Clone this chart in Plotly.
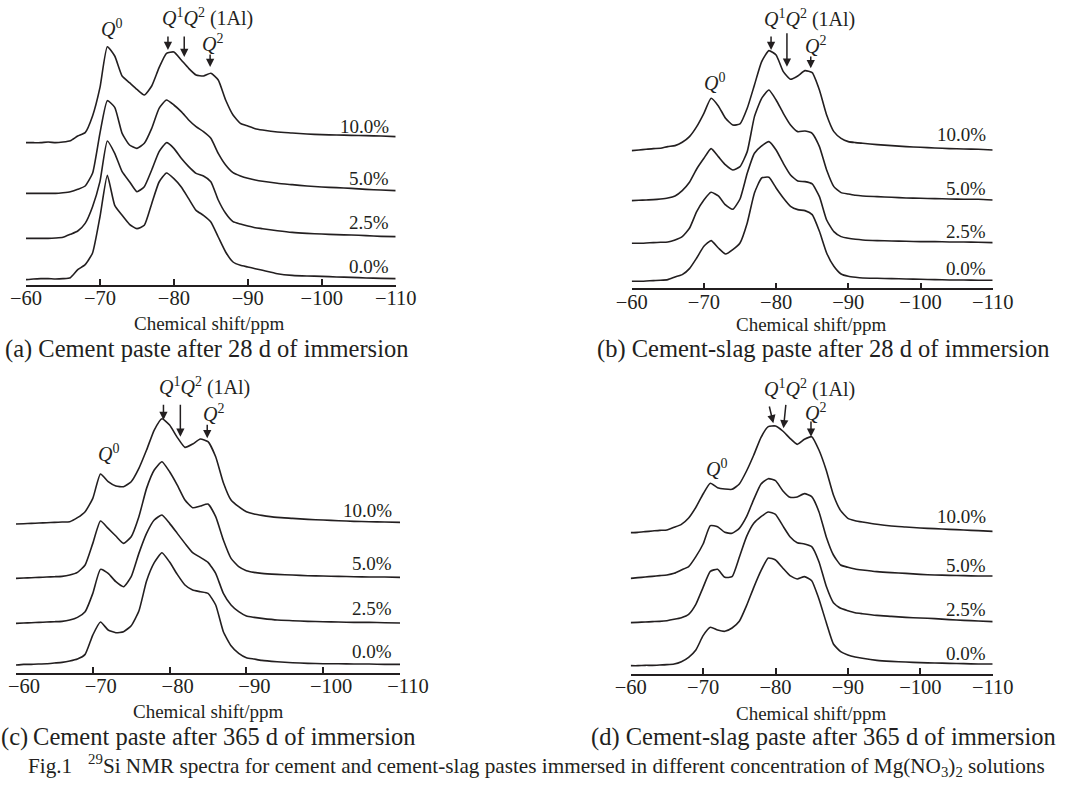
import plotly.graph_objects as go

# ---------------- data ----------------
PPM = [-60, -61, -62, -63, -64, -65, -66, -67, -68, -69, -70, -71, -72, -73, -74, -75,
       -76, -77, -78, -79, -80, -81, -82, -83, -84, -85, -86, -87, -88, -89, -90, -91, -92,
       -94, -96, -98, -100, -102, -104, -106, -108, -110]

CONC = ["0.0%", "2.5%", "5.0%", "10.0%"]

# (a) cement paste, 28 d  (relative intensity, a.u.)
A_00 = [0,2,3,3,2,3,6,30,45,80,188,313,223,193,166,153,163,228,293,320,303,278,243,208,193,173,128,83,53,43,38,33,28, 18,13,11,10,8,7,5,4,3]
A_25 = [0,0,0,0,1,3,12,22,45,95,170,292,255,200,170,140,155,205,260,287,270,240,215,195,187,170,115,75,50,43,37,32,29, 23,18,15,13,11,10,8,6,5]
A_50 = [0,0,0,0,0,2,5,12,22,60,180,278,258,180,145,135,150,195,255,280,265,245,220,200,185,165,120,85,62,52,45,40,36, 30,26,22,19,17,15,12,10,8]
A_100 = [0,0,0,2,0,2,6,20,30,80,165,288,260,200,180,160,143,170,225,268,272,248,223,203,200,208,188,128,83,58,50,42,38, 32,29,26,24,23,22,21,20,18]

# (b) cement-slag paste, 28 d
B_00 = [0,0,1,2,3,5,13,20,38,70,105,122,100,82,95,115,175,265,310,312,280,250,225,215,212,200,150,85,45,22,15,12,10, 9,8,7,6,5,4,4,3,3]
B_25 = [0,0,1,2,3,4,10,20,45,95,130,153,142,115,102,133,210,270,292,305,280,240,205,187,185,178,140,70,35,20,15,12,10, 8,7,6,5,5,4,4,3,2]
B_50 = [0,1,2,3,5,8,14,30,55,95,127,156,132,107,92,102,147,252,307,332,302,262,227,207,209,202,162,92,42,24,20,16,14, 12,10,8,7,6,5,4,4,2]
B_100 = [0,2,4,6,7,12,15,25,42,72,112,157,134,97,77,80,127,197,267,300,287,237,214,224,240,234,182,107,57,37,27,24,22, 18,15,12,10,8,6,5,4,2]

# (c) cement paste, 365 d
C_00 = [0,2,2,3,4,6,8,12,18,32,90,129,105,97,100,118,162,252,307,337,309,272,240,225,220,215,180,100,58,35,22,18,14, 10,7,5,4,4,3,3,2,2]
C_25 = [0,1,2,3,4,5,6,10,18,35,90,162,150,125,110,140,210,270,310,325,300,270,240,212,198,183,150,90,55,35,22,18,15, 10,8,6,5,4,3,3,2,1]
C_50 = [0,1,2,3,4,5,6,10,18,40,105,172,150,127,105,125,185,270,325,350,320,280,235,212,217,223,185,115,60,35,23,18,15, 12,10,8,7,6,5,4,4,3]
C_100 = [0,1,2,3,4,5,6,7,19,37,77,150,127,114,112,127,167,222,282,316,297,260,230,240,255,247,202,124,72,52,37,30,26, 20,17,14,12,10,8,7,6,5]

# (d) cement-slag paste, 365 d
D_00 = [0,0,1,1,2,3,5,12,25,47,90,115,107,103,113,133,180,235,285,323,317,293,270,260,267,255,200,130,65,42,32,26,22, 16,13,11,9,8,7,6,5,5]
D_25 = [0,1,2,3,4,6,10,15,25,55,106,154,160,136,138,196,258,298,318,332,325,291,258,240,236,228,183,110,60,43,36,30,27, 22,19,16,14,12,9,7,5,3]
D_50 = [0,2,4,6,8,10,15,25,35,65,103,158,155,138,135,150,185,237,283,299,293,263,243,244,254,245,200,125,70,40,33,28,25, 20,17,15,12,10,9,8,7,7]
D_100 = [0,1,3,5,7,8,16,25,44,76,116,148,135,131,130,146,185,233,286,318,320,305,283,265,280,288,248,188,113,66,43,36,32, 25,20,17,14,12,10,8,6,4]

# vertical stacking offset of each spectrum (a.u.)
OFFSETS_A = [16, 140, 275, 427]
OFFSETS_B = [21, 135, 263, 413]
OFFSETS_C = [23, 148, 283, 446]
OFFSETS_D = [25, 154, 287, 424]

TICK_VALS = [-60, -70, -80, -90, -100, -110]
TICK_TEXT = ["\u221260", "\u221270", "\u221280", "\u221290", "\u2212100", "\u2212110"]
X_TITLE = "Chemical shift/ppm"
SUBTITLES = ["(a) Cement paste after 28 d of immersion",
             "(b) Cement-slag paste after 28 d of immersion",
             "(c)\u2009Cement paste after 365 d of immersion",
             "(d) Cement-slag paste after 365 d of immersion"]
CAPTION = ("Fig.1\u2002 <sup>29</sup>Si NMR spectra for cement and cement-slag pastes immersed in "
           "different concentration of Mg(NO<sub>3</sub>)<sub>2</sub> solutions")

Q0_TXT = "<i>Q</i><sup>0</sup>"
Q12_TXT = "<i>Q</i><sup>1</sup><i>Q</i><sup>2</sup> (1Al)"
Q2_TXT = "<i>Q</i><sup>2</sup>"

# ---------------- layout config ----------------
W, H = 1065, 785
FONT = "Liberation Serif, Times New Roman, serif"
INK = "#231f20"

PANELS = [
    dict(series=[A_00, A_25, A_50, A_100], offs=OFFSETS_A, x0=26, x1=395.7, ax_y=285, top=0, shift=0,
         xt=(209, 323), st=(206, 349),
         q0=(-71.5, 771), q12=(-78.1, 803), q2=(-85.2, 727),
         arrows=[(-79.2, 750, -79.2, 705), (-81.4, 750, -81.4, 684), (-84.9, 696, -84.9, 654)],
         pl=(-109.3, [55, 187, 320, 475])),
    dict(series=[B_00, B_25, B_50, B_100], offs=OFFSETS_B, x0=631.7, x1=992.7, ax_y=288.3, top=0, shift=0,
         xt=(811, 324), st=(823, 349),
         q0=(-71.5, 619), q12=(-78.1, 810), q2=(-85.4, 730),
         arrows=[(-79.3, 760, -79.3, 715), (-81.5, 770, -81.5, 665), (-84.8, 700, -84.8, 660)],
         pl=(-109.4, [60, 170, 300, 460])),
    dict(series=[C_00, C_25, C_50, C_100], offs=OFFSETS_C, x0=16, x1=400, ax_y=672.7, top=360, shift=-8,
         xt=(208, 711), st=(208, 737),
         q0=(-72.0, 658), q12=(-78.3, 858), q2=(-85.7, 778),
         arrows=[(-79.2, 808, -79.2, 758), (-81.4, 808, -81.4, 708), (-84.9, 748, -84.9, 703)],
         pl=(-109.2, [63, 193, 328, 488])),
    dict(series=[D_00, D_25, D_50, D_100], offs=OFFSETS_D, x0=630.7, x1=992.7, ax_y=674, top=360, shift=0,
         xt=(811, 713), st=(823, 737),
         q0=(-71.9, 617), q12=(-78.1, 857), q2=(-85.5, 787),
         arrows=[(-79.1, 807, -79.7, 752), (-81.45, 812, -81.1, 737), (-84.9, 762, -84.9, 712)],
         pl=(-109.4, [62, 194, 327, 472])),
]

fig = go.Figure()
annotations = []
layout_axes = {}

for i, p in enumerate(PANELS):
    n = "" if i == 0 else str(i + 1)
    xref, yref = "x" + n, "y" + n
    for s, off in zip(p["series"], p["offs"]):
        fig.add_trace(go.Scatter(
            x=PPM, y=[v + off for v in s], mode="lines",
            line=dict(color=INK, width=1.6, shape="spline", smoothing=0.5),
            xaxis=xref, yaxis=yref, showlegend=False, hoverinfo="skip"))
    yr = 3 * (p["ax_y"] - p["top"])
    layout_axes["xaxis" + n] = dict(
        domain=[p["x0"] / W, p["x1"] / W], range=[-60, -110], anchor=yref,
        showline=True, linecolor=INK, linewidth=1.5, mirror=False, automargin=False,
        ticks="inside", ticklen=6, tickwidth=1.5, tickcolor=INK,
        tickvals=TICK_VALS, ticktext=TICK_TEXT, ticklabelstandoff=-6,
        ticklabelshift=p["shift"], ticklabeloverflow="allow",
        tickfont=dict(family=FONT, size=20.5, color=INK),
        showgrid=False, zeroline=False, fixedrange=True)
    layout_axes["yaxis" + n] = dict(
        domain=[1 - p["ax_y"] / H, 1 - p["top"] / H], range=[0, yr], anchor=xref,
        visible=False, automargin=False, fixedrange=True)

    annotations.append(dict(text=X_TITLE, xref="paper", yref="paper",
                            x=p["xt"][0] / W, y=1 - p["xt"][1] / H, xanchor="center", yanchor="middle",
                            showarrow=False, font=dict(family=FONT, size=19, color=INK)))
    annotations.append(dict(text=SUBTITLES[i], xref="paper", yref="paper",
                            x=p["st"][0] / W, y=1 - p["st"][1] / H, xanchor="center", yanchor="middle",
                            showarrow=False, font=dict(family=FONT, size=24.5, color=INK)))
    for txt, pos, anc in [(Q0_TXT, p["q0"], "center"), (Q12_TXT, p["q12"], "left"), (Q2_TXT, p["q2"], "center")]:
        annotations.append(dict(text=txt, xref=xref, yref=yref, x=pos[0], y=pos[1],
                                xanchor=anc, yanchor="middle", showarrow=False,
                                font=dict(family=FONT, size=20, color=INK)))
    for (tx, ty, hx, hy) in p["arrows"]:
        annotations.append(dict(text="", xref=xref, yref=yref, x=hx, y=hy,
                                axref=xref, ayref=yref, ax=tx, ay=ty, showarrow=True,
                                arrowhead=2, arrowsize=1.1, arrowwidth=1.5, arrowcolor=INK,
                                standoff=0, startstandoff=0))
    px, pys = p["pl"]
    for lab, py in zip(CONC, pys):
        annotations.append(dict(text=lab, xref=xref, yref=yref, x=px, y=py,
                                xanchor="right", yanchor="middle", showarrow=False,
                                font=dict(family=FONT, size=19, color=INK)))

annotations.append(dict(text=CAPTION, xref="paper", yref="paper", x=1047 / W, y=1 - 765 / H,
                        xanchor="right", yanchor="middle", showarrow=False,
                        font=dict(family=FONT, size=21.2, color=INK)))

fig.update_layout(width=W, height=H, margin=dict(l=0, r=0, t=0, b=0, autoexpand=False),
                  paper_bgcolor="white", plot_bgcolor="white",
                  annotations=annotations, **layout_axes)

fig.write_html("out.html")
